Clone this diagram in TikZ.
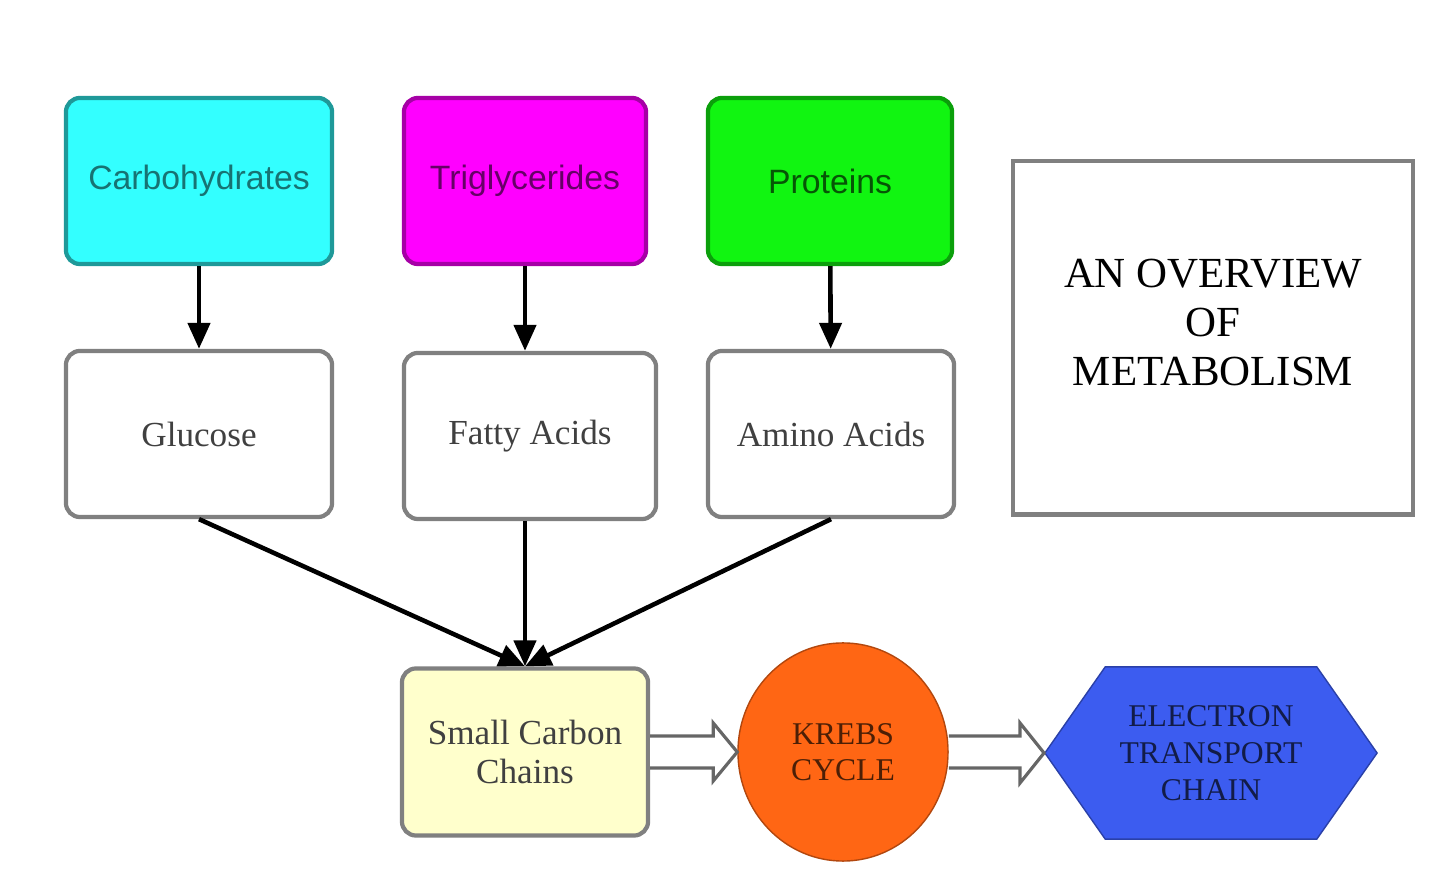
\documentclass[tikz,border=0pt]{standalone}
\usepackage{fontspec}
\setmainfont{Liberation Serif}
\setsansfont{Liberation Sans}
\usetikzlibrary{shapes.geometric,shapes.symbols,arrows.meta}
\definecolor{CarbCyan}{HTML}{33FFFF}
\definecolor{TrigMagenta}{HTML}{FF00FF}
\definecolor{ProtGreen}{HTML}{11F511}
\definecolor{ChainYellow}{HTML}{FFFFCC}
\definecolor{KrebsOrange}{HTML}{FF6614}
\definecolor{ChainBlue}{HTML}{3C5CF0}

\begin{document}
\begin{tikzpicture}[x=0.01cm, y=-0.01cm,
    box/.style={draw=gray, fill=white, rounded corners=4pt, line width=1.2pt, minimum width=2.66cm, minimum height=1.66cm, font=\fontsize{10}{11}\selectfont, text=black!75, align=center},
    srcbox/.style={box, font=\sffamily\fontsize{9.6}{11}\selectfont},
    arr/.style={-{Triangle[length=2.6mm,width=2.2mm]}, line width=1.3pt},
    blockarr/.style={draw=black!60, fill=white, line width=0.9pt, line join=miter}
  ]
    \useasboundingbox (0,0) rectangle (1440,871);

    \node[srcbox, fill=CarbCyan, draw=CarbCyan!60!black, text=CarbCyan!45!black] (carb) at (199,181) {Carbohydrates};
    \node[srcbox, fill=TrigMagenta, draw=TrigMagenta!65!black, text=TrigMagenta!40!black, minimum width=2.42cm] (trig) at (525,181) {Triglycerides};
    \node[srcbox, fill=ProtGreen, draw=ProtGreen!65!black, text=ProtGreen!35!black, minimum width=2.44cm] (prot) at (830,181) {Proteins};

    \node[box] (gluc) at (199,434) {Glucose};
    \node[box, minimum width=2.52cm] (fatty) at (530,436) {Fatty Acids};
    \node[box, minimum width=2.46cm] (amino) at (831,434) {Amino Acids};

    \node[draw=gray, line width=1.2pt, minimum width=4.0cm, minimum height=3.53cm, font=\fontsize{12.2}{14}\selectfont, align=center] (title) at (1213,338) {AN OVERVIEW\\OF\\METABOLISM\\[-5pt]};

    \node[box, fill=ChainYellow, minimum width=2.46cm, minimum height=1.67cm] (small) at (525,752) {Small Carbon\\Chains};
    \node[ellipse, draw=KrebsOrange!70!black, fill=KrebsOrange, minimum width=2.1cm, minimum height=2.18cm, font=\fontsize{9}{10.3}\selectfont, text=KrebsOrange!30!black, align=center] (krebs) at (843,752) {KREBS\\CYCLE};
    \node[signal, signal to=west and east, signal pointer angle=110, draw=ChainBlue!70!black, fill=ChainBlue, minimum width=3.32cm, minimum height=1.72cm, font=\fontsize{9}{10.5}\selectfont, text=ChainBlue!30!black, align=center] (etc) at (1211,753) {ELECTRON\\TRANSPORT\\CHAIN};

    \draw[arr] (carb) -- (gluc);
    \draw[arr] (trig) -- (trig |- fatty.north);
    \draw[arr] (prot) -- (amino);
    \draw[arr] (gluc.south) -- (small.north);
    \draw[arr] (fatty.south -| small.north) -- (small.north);
    \draw[arr] (amino.south) -- (small.north);

    % hollow block arrows
    \draw[blockarr] ([shift={(0,-16)}]small.east) -- ([shift={(-24,-16)}]krebs.west) -- ([shift={(-24,-29)}]krebs.west)
      -- (krebs.west) -- ([shift={(-24,29)}]krebs.west) -- ([shift={(-24,16)}]krebs.west) -- ([shift={(0,16)}]small.east);
    \draw[blockarr] ([shift={(0,-16)}]krebs.east) -- ([shift={(-24,-17)}]etc.west) -- ([shift={(-24,-30)}]etc.west)
      -- (etc.west) -- ([shift={(-24,30)}]etc.west) -- ([shift={(-24,15)}]etc.west) -- ([shift={(0,16)}]krebs.east);
\end{tikzpicture}
\end{document}
